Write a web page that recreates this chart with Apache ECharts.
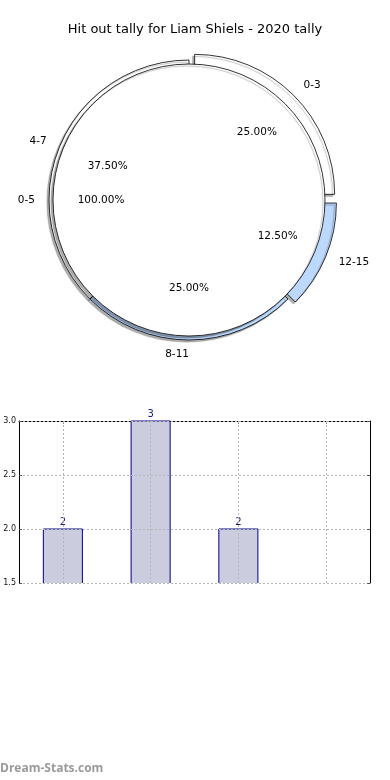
<!DOCTYPE html>
<html><head><meta charset="utf-8">
<script src="https://cdn.jsdelivr.net/npm/echarts@6/dist/echarts.min.js"></script>
<style>html,body{margin:0;padding:0;background:#fff}#c{width:390px;height:780px}</style>
</head><body><div id="c"></div>
<script>
// ---- data ----
const titleText = 'Hit out tally for Liam Shiels - 2020 tally';
const watermarkText = 'Dream-Stats.com';
const outerCategories = ['0-3', '4-7', '8-11', '12-15'];
const outerValues = [2, 3, 2, 1];
const outerExploded = [true, false, false, true];
const innerCategories = ['0-5'];
const innerValues = [8];
const barCategories = ['0-3', '4-7', '8-11', '12-15'];
const barValues = [2, 3, 2, 1];
const yTicks = [1.5, 2.0, 2.5, 3.0];

// ---- styles ----
const outerPalette = ['#ffffff', '#ffffff', '#bcd8fc', '#bcd8fc'];
const innerPalette = ['#ffffff'];
const FONT = 'DejaVu Sans';
const CX = 189, CY = 200;
const shadow = { shadowColor: 'rgba(0,0,0,0.32)', shadowOffsetX: -2, shadowOffsetY: 2, shadowBlur: 1 };
const yMin = yTicks[0], yMax = yTicks[yTicks.length - 1], yStep = yTicks[1] - yTicks[0];

const outerData = outerCategories.map((c, i) => ({
  name: c, value: outerValues[i], selected: outerExploded[i],
  itemStyle: { color: outerPalette[i] }
}));
const outerLabelData = outerCategories.map((c, i) => ({
  name: c, value: outerValues[i], selected: outerExploded[i]
}));
const innerData = innerCategories.map((c, i) => ({
  name: c, value: innerValues[i], itemStyle: { color: innerPalette[i] }
}));

const pieCommon = {
  type: 'pie', center: [CX, CY], startAngle: 0, clockwise: false,
  avoidLabelOverlap: false, animation: false, emphasis: { disabled: true },
  silent: true
};

function renderBar(params, api) {
  const v = api.value(1);
  if (!(v > yMin)) return null; // below the visible axis range
  const top = api.coord([api.value(0), v]);
  const cs = params.coordSys;
  const bottomY = cs.y + cs.height;
  const bw = api.size([1, 0])[0] * 0.445;
  const l = top[0] - bw / 2, r = top[0] + bw / 2;
  const t = Math.max(top[1], cs.y);
  return {
    type: 'group',
    children: [
      { type: 'rect', shape: { x: l, y: t, width: bw, height: bottomY - t }, style: { fill: '#ccccdf' } },
      { type: 'polyline', shape: { points: [[l, bottomY], [l, t], [r, t], [r, bottomY]] },
        style: { stroke: '#00008b', lineWidth: 1, fill: null } },
      { type: 'text', style: { text: String(v), x: top[0], y: t - 2, align: 'center', verticalAlign: 'bottom',
        fill: '#1a1a80', font: '10px "DejaVu Sans"' } }
    ]
  };
}

const chart = echarts.init(document.getElementById('c'), null, { renderer: 'canvas' });
chart.setOption({
  animation: false,
  title: [
    { text: titleText, left: 'center', top: 23, padding: 0,
      textStyle: { fontSize: 13, fontWeight: 'normal', color: '#000', fontFamily: FONT } },
    { text: watermarkText, left: 0, top: 763, padding: 0,
      textStyle: { fontSize: 12, fontWeight: 'bold', color: '#9a9a9a', fontFamily: 'Open Sans' } }
  ],
  grid: { left: 19, right: 20, top: 421, bottom: 197, containLabel: false, outerBoundsMode: 'none' },
  xAxis: {
    type: 'category', data: barCategories, position: 'top',
    axisLine: { show: true, lineStyle: { color: '#000', width: 1 } },
    axisTick: { show: true, inside: true, alignWithLabel: true, length: 3, lineStyle: { color: '#888' } },
    axisLabel: { show: false }, splitLine: { show: false }
  },
  yAxis: [
    { type: 'value', min: yMin, max: yMax, interval: yStep, position: 'left', z: 3,
      axisLine: { show: true, lineStyle: { color: '#000', width: 1 } },
      axisTick: { show: true, inside: true, length: 3, lineStyle: { color: '#555' } },
      axisLabel: { color: '#111', fontSize: 8, fontFamily: FONT, margin: 3, formatter: v => v.toFixed(1) },
      splitLine: { show: true, lineStyle: { color: '#b5b5b5', type: [2, 2], width: 1 } } },
    { type: 'value', min: yMin, max: yMax, interval: yStep, position: 'right', z: 3,
      axisLine: { show: true, lineStyle: { color: '#000', width: 1 } },
      axisTick: { show: true, inside: true, length: 3, lineStyle: { color: '#555' } },
      axisLabel: { show: false }, splitLine: { show: false } }
  ],
  series: [
    Object.assign({}, pieCommon, {
      radius: [0, 140], selectedMode: 'multiple', selectedOffset: 8,
      itemStyle: Object.assign({ borderColor: '#000', borderWidth: 0.8 }, shadow),
      select: { itemStyle: { borderColor: '#000', borderWidth: 0.8 } },
      label: { show: true, position: 'outside', formatter: '{b}', color: '#000', fontSize: 10.5,
               fontFamily: FONT, distanceToLabelLine: 0 },
      labelLine: { show: false, length: 14, length2: 0 },
      data: outerData
    }),
    Object.assign({}, pieCommon, {
      radius: [0, 136],
      itemStyle: Object.assign({ borderColor: '#000', borderWidth: 0.8 }, shadow),
      label: { show: true, position: 'outside', formatter: '{b}', color: '#000', fontSize: 10.5,
               fontFamily: FONT, distanceToLabelLine: 0 },
      labelLine: { show: false, length: 18, length2: 0 },
      data: innerData
    }),
    Object.assign({}, pieCommon, {
      radius: [0, 170], selectedMode: 'multiple', selectedOffset: 8,
      itemStyle: { color: 'rgba(0,0,0,0)', borderWidth: 0 },
      select: { itemStyle: { color: 'rgba(0,0,0,0)', borderWidth: 0 } },
      label: { show: true, position: 'inside', color: '#000', fontSize: 10.5, fontFamily: FONT,
               formatter: p => p.percent.toFixed(2) + '%' },
      labelLine: { show: false },
      data: outerLabelData
    }),
    Object.assign({}, pieCommon, {
      radius: [0, 170],
      itemStyle: { color: 'rgba(0,0,0,0)', borderWidth: 0 },
      label: { show: true, position: 'inside', color: '#000', fontSize: 10.5, fontFamily: FONT,
               formatter: p => p.percent.toFixed(2) + '%' },
      labelLine: { show: false },
      data: innerCategories.map((c, i) => ({ name: c, value: innerValues[i] }))
    }),
    {
      type: 'custom', xAxisIndex: 0, yAxisIndex: 0, silent: true, animation: false,
      renderItem: renderBar,
      encode: { x: 0, y: 1 },
      data: barCategories.map((c, i) => [i, barValues[i]]),
      markLine: {
        silent: true, symbol: 'none', animation: false, label: { show: false },
        lineStyle: { type: [2, 2], color: '#b5b5b5', width: 1 },
        data: barCategories.map(c => ({ xAxis: c }))
      }
    }
  ]
});
</script>
</body></html>
